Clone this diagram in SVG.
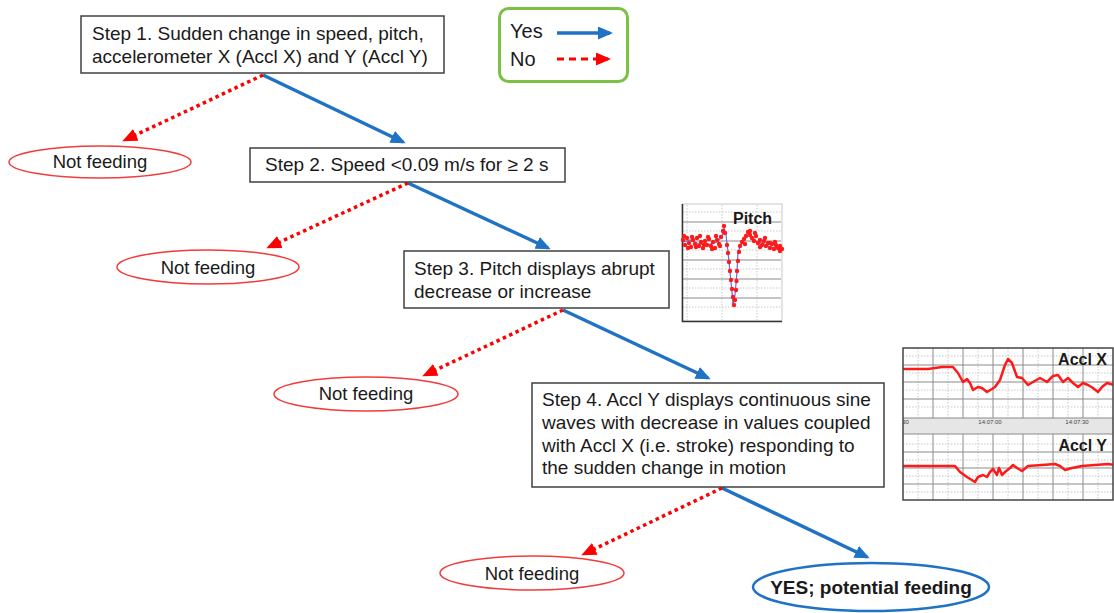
<svg xmlns="http://www.w3.org/2000/svg" width="1114" height="613" viewBox="0 0 1114 613">
<style>
.box{fill:#fff;stroke:#404040;stroke-width:1.5}
.t{font-family:"Liberation Sans",Arial,sans-serif;font-size:19px;fill:#1a1a1a}
.nf{fill:#fff;stroke:#f23b3b;stroke-width:1.5}
.nft{font-family:"Liberation Sans",Arial,sans-serif;font-size:18.5px;fill:#1a1a1a;text-anchor:middle}
.yes{fill:none;stroke:#1f72c4;stroke-width:3.5}
.no{fill:none;stroke:#ff0000;stroke-width:3.5;stroke-dasharray:3.5 3.5}
.lg{font-family:"Liberation Sans",Arial,sans-serif;font-size:20px;fill:#1a1a1a}
.bt{font-family:"Liberation Sans",Arial,sans-serif;font-weight:bold;fill:#1a1a1a}
.maj{stroke:#8a8a8a;stroke-width:1}
.min{stroke:#bbb;stroke-width:0.8;stroke-dasharray:1.5 1.5}
.tr{fill:none;stroke:#ff1a1a;stroke-width:2.5;stroke-linejoin:round;stroke-linecap:round}
.pd{fill:none;stroke:none;marker-start:url(#dot);marker-mid:url(#dot);marker-end:url(#dot)}
</style>
<defs>
<marker id="ab" markerUnits="userSpaceOnUse" markerWidth="15" markerHeight="13" refX="12" refY="6.5" orient="auto"><path d="M0,0 L15,6.5 L0,13 z" fill="#1f72c4"/></marker>
<marker id="ar" markerUnits="userSpaceOnUse" markerWidth="15" markerHeight="13" refX="12" refY="6.5" orient="auto"><path d="M0,0 L15,6.5 L0,13 z" fill="#ff0000"/></marker>
<marker id="dot" markerUnits="userSpaceOnUse" markerWidth="6" markerHeight="6" refX="3" refY="3" overflow="visible"><circle cx="3" cy="3" r="2.2" fill="#ff1a1a"/></marker>
<clipPath id="cpa"><rect x="903" y="348" width="210" height="152"/></clipPath>
</defs>

<g id="legend">
<rect x="499.5" y="8.5" width="128" height="73" rx="9" fill="#fff" stroke="#7cc144" stroke-width="3"/>
<text class="lg" x="510" y="38">Yes</text>
<text class="lg" x="510" y="66">No</text>
<path d="M557,33 L610,33" class="yes" stroke-width="3" marker-end="url(#ab)"/>
<path d="M557,59 L608,59" fill="none" stroke="#ff0000" stroke-width="3" stroke-dasharray="7 5" marker-end="url(#ar)"/>
</g>

<g id="connectors">
<path class="yes" d="M263,75 L403,142" marker-end="url(#ab)"/>
<path class="no" d="M263,75 L125,140" marker-end="url(#ar)"/>
<path class="yes" d="M408,183 L548,248" marker-end="url(#ab)"/>
<path class="no" d="M408,183 L269,247" marker-end="url(#ar)"/>
<path class="yes" d="M563,310 L708,378" marker-end="url(#ab)"/>
<path class="no" d="M563,310 L425,375" marker-end="url(#ar)"/>
<path class="yes" d="M722,488 L867,557" marker-end="url(#ab)"/>
<path class="no" d="M722,488 L584,554" marker-end="url(#ar)"/>
</g>

<g id="step1">
<rect class="box" x="81" y="16" width="363" height="57"/>
<text class="t" x="92" y="40">Step 1. Sudden change in speed, pitch,</text>
<text class="t" x="92" y="63">accelerometer X (Accl X) and Y (Accl Y)</text>
</g>
<g id="nf1">
<ellipse class="nf" cx="100" cy="162" rx="91" ry="16"/>
<text class="nft" x="100" y="168">Not feeding</text>
</g>
<g id="step2">
<rect class="box" x="250" y="148" width="315" height="34"/>
<text class="t" x="265" y="171">Step 2. Speed &lt;0.09 m/s for ≥ 2 s</text>
</g>
<g id="nf2">
<ellipse class="nf" cx="208" cy="267" rx="91" ry="17"/>
<text class="nft" x="208" y="274">Not feeding</text>
</g>
<g id="step3">
<rect class="box" x="404" y="251" width="265" height="57"/>
<text class="t" x="414" y="275">Step 3. Pitch displays abrupt</text>
<text class="t" x="414" y="298">decrease or increase</text>
</g>
<g id="nf3">
<ellipse class="nf" cx="366" cy="394" rx="92" ry="17"/>
<text class="nft" x="366" y="400">Not feeding</text>
</g>
<g id="step4">
<rect class="box" x="532" y="383" width="352" height="104"/>
<text class="t" x="542" y="406">Step 4. Accl Y displays continuous sine</text>
<text class="t" x="542" y="429">waves with decrease in values coupled</text>
<text class="t" x="542" y="452">with Accl X (i.e. stroke) responding to</text>
<text class="t" x="542" y="474">the sudden change in motion</text>
</g>
<g id="nf4">
<ellipse class="nf" cx="532" cy="573" rx="92" ry="17"/>
<text class="nft" x="532" y="580">Not feeding</text>
</g>
<g id="yes">
<ellipse fill="#fff" stroke="#1f72c4" stroke-width="2.5" cx="871" cy="587" rx="118" ry="24"/>
<text class="bt" x="871" y="594" font-size="19" text-anchor="middle">YES; potential feeding</text>
</g>

<g id="pitch-chart">
<rect x="682" y="204" width="100" height="117" fill="#fff" stroke="#c8c8c8" stroke-width="1"/>
<g class="min">
<path d="M683,212 H781 M683,231 H781 M683,250 H781 M683,269 H781 M683,288 H781 M683,307 H781"/>
<path d="M687,205 V320 M722,205 V320 M757,205 V320"/>
</g>
<g class="maj" stroke="#666">
<path d="M683,222 H781 M683,241 H781 M683,260 H781 M683,279 H781 M683,298 H781"/>
</g>
<path d="M682.5,204 V321.5 H782" fill="none" stroke="#333" stroke-width="1.5"/>
<polyline fill="none" stroke="#5b6cf0" stroke-width="1.2" points="683,242 690,240 697,243 703,245 710,244 717,242 722,237 724,228 726,235 728,252 730,272 732,292 733,305 735,295 737,272 738,252 741,245 745,238 748,232 752,237 757,242 763,243 770,247 782,248"/>
<polyline class="pd" points="683,240 685,245 687,238 689,243 691,247 693,240 695,244 697,238 699,246 701,242 703,248 705,241 707,245 709,239 711,246 713,242 715,248 717,240 719,244 721,237 723,231 724,226 725,233 727,245 728,253 729,262 730,271 731,280 732,289 733,297 734,305 735,300 736,290 736.5,281 737,271 738,261 739,252 740,246 742,242 744,239 746,236 748,232 750,235 752,238 754,241 756,236 758,243 760,240 762,245 764,241 766,246 768,243 770,248 772,244 774,249 776,245 778,248 780,246 782,249"/>
<polyline class="pd" points="684,236 688,248 692,237 696,247 700,236 704,245 708,237 712,249 716,236 720,246 745,244 750,231 755,233 760,247 765,238 770,243 775,242 780,251"/>
<text class="bt" x="733" y="224" font-size="16">Pitch</text>
</g>

<g id="accl-chart">
<rect x="903" y="348" width="210" height="152" fill="#fff"/>
<g clip-path="url(#cpa)">
<rect x="903" y="418" width="210" height="16" fill="#e6e6e6"/>
<g class="min">
<path d="M918,348 V418 M948,348 V418 M978,348 V418 M1008,348 V418 M1038,348 V418 M1068,348 V418 M1098,348 V418"/>
<path d="M918,434 V500 M948,434 V500 M978,434 V500 M1008,434 V500 M1038,434 V500 M1068,434 V500 M1098,434 V500"/>
<path d="M903,356 H1113 M903,373 H1113 M903,390 H1113 M903,407 H1113 M903,444 H1113 M903,460 H1113 M903,476 H1113 M903,492 H1113"/>
</g>
<g class="maj">
<path d="M933,348 V418 M963,348 V418 M993,348 V418 M1023,348 V418 M1053,348 V418 M1083,348 V418"/>
<path d="M933,434 V500 M963,434 V500 M993,434 V500 M1023,434 V500 M1053,434 V500 M1083,434 V500"/>
<path d="M903,365 H1113 M903,382 H1113 M903,399 H1113 M903,452 H1113 M903,468 H1113 M903,484 H1113"/>
<path d="M903,418 H1113 M903,434 H1113"/>
</g>
<polyline class="tr" points="903,369 928,369 942,367 953,367 958,373 963,382 967,379 970,383 973,390 978,387 982,388 987,392 992,389 995,387 1000,380 1005,365 1008,359 1012,363 1017,377 1022,378 1028,385 1033,382 1040,378 1047,382 1053,376 1058,375 1063,382 1068,378 1073,383 1078,387 1083,383 1088,385 1093,388 1098,392 1102,387 1107,383 1114,385"/>
<polyline class="tr" points="903,466 955,466 960,472 967,477 975,482 978,477 983,475 987,477 990,472 993,469 997,475 999,468 1002,475 1005,472 1010,468 1013,465 1017,468 1022,471 1028,466 1042,465 1055,464 1060,466 1065,470 1072,468 1082,466 1095,465 1108,464 1114,465"/>
<g font-family="Liberation Sans,Arial,sans-serif" font-size="6" fill="#444" text-anchor="middle">
<text x="903" y="424">5:30</text>
<text x="990" y="424">14:07:00</text>
<text x="1077" y="424">14:07:30</text>
</g>
</g>
<rect x="903" y="348" width="210" height="152" fill="none" stroke="#444" stroke-width="1.5"/>
<text class="bt" x="1107" y="365" font-size="16" text-anchor="end">Accl X</text>
<text class="bt" x="1107" y="451" font-size="16" text-anchor="end">Accl Y</text>
</g>
</svg>
